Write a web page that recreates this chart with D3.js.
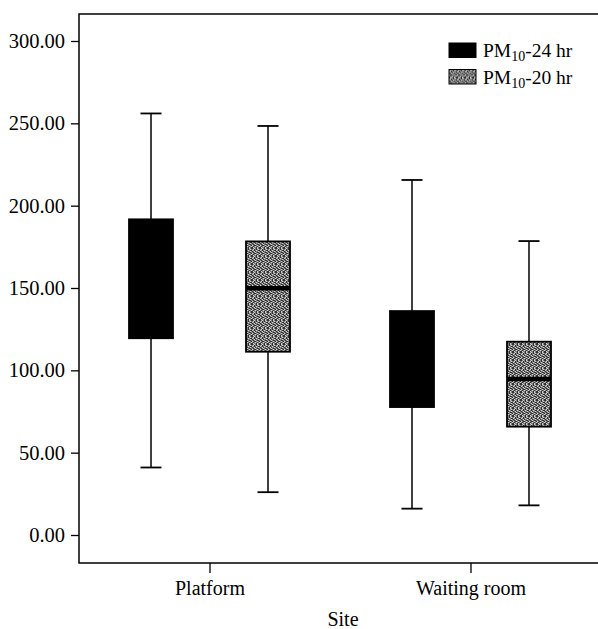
<!DOCTYPE html>
<html>
<head>
  <meta charset="utf-8">
  <title>PM10 by site</title>
  <style>
    body { margin: 0; background: #fff; }
    text { font-family: "Liberation Serif", "DejaVu Serif", serif; fill: #000; }
  </style>
</head>
<body>
  <script src="https://cdn.jsdelivr.net/npm/d3@7/dist/d3.min.js"></script>
  <script>
    const width = 598;
    const height = 629;

    // data
    const sites = ['Platform', 'Waiting room'];
    const series = ['PM10-24 hr', 'PM10-20 hr'];
    const whiskerLow = [[41, 26], [16, 18]];
    const q1 = [[119.5, 111.3], [77.7, 65.8]];
    const median = [[155, 149.8], [105, 94.7]];
    const q3 = [[191.7, 178.3], [136, 117.4]];
    const whiskerHigh = [[256, 248.4], [215.6, 178.5]];
    const yTicks = [0, 50, 100, 150, 200, 250, 300];

    const frame = { left: 79, right: 601, top: 14, bottom: 563 };

    const svg = d3.select('body')
      .append('svg')
      .attr('width', width)
      .attr('height', height);

    // dithered grey fill: fixed 8x8 tile, d = dark, l = light, . = mid
    const tile = [
      'd.l.dl.d',
      '.ld.d.l.',
      'l.d.l.dd',
      'd.ld..l.',
      '.d.l.dd.',
      'l.dd.l.d',
      '.d.l.d.l',
      'dl..dl.d'
    ];
    const tileColors = { d: '#303030', l: '#cfcfcf', '.': '#7e7e7e' };
    const cells = [];
    tile.forEach((row, r) => row.split('').forEach((c, k) => cells.push({ r, k, c })));

    const defs = svg.append('defs');
    const pat = defs.append('pattern')
      .attr('id', 'grey')
      .attr('patternUnits', 'userSpaceOnUse')
      .attr('width', 8)
      .attr('height', 8);
    pat.selectAll('rect').data(cells).join('rect')
      .attr('x', d => d.k).attr('y', d => d.r)
      .attr('width', 1).attr('height', 1)
      .attr('fill', d => tileColors[d.c]);

    const fills = ['#000', 'url(#grey)'];

    const x = d3.scalePoint()
      .domain(sites)
      .range([frame.left, frame.right])
      .padding(0.5);

    const xInner = d3.scalePoint()
      .domain(series)
      .range([-58.5, 58.5]);

    const y = d3.scaleLinear()
      .domain([0, 300])
      .range([535, 41]);

    const boxW = 44;
    const capW = 21;

    // frame
    svg.append('rect')
      .attr('x', frame.left)
      .attr('y', frame.top)
      .attr('width', frame.right - frame.left)
      .attr('height', frame.bottom - frame.top)
      .attr('fill', 'none')
      .attr('stroke', '#000')
      .attr('stroke-width', 1.5);

    // y axis
    const yAxis = svg.append('g')
      .attr('transform', `translate(${frame.left},0)`)
      .call(d3.axisLeft(y).tickValues(yTicks).tickFormat(d3.format('.2f')).tickSize(8).tickPadding(6));
    yAxis.select('.domain').remove();
    yAxis.selectAll('line').attr('stroke', '#000').attr('stroke-width', 1.3);
    yAxis.selectAll('text')
      .attr('font-size', 20.5)
      .attr('fill', '#000');

    // x axis
    const xAxis = svg.append('g')
      .attr('transform', `translate(0,${frame.bottom})`)
      .call(d3.axisBottom(x).tickSize(10).tickPadding(8));
    xAxis.select('.domain').remove();
    xAxis.selectAll('line').attr('stroke', '#000').attr('stroke-width', 1.3);
    xAxis.selectAll('text')
      .attr('font-size', 20)
      .attr('fill', '#000');

    svg.append('text')
      .attr('x', 343)
      .attr('y', 626)
      .attr('text-anchor', 'middle')
      .attr('font-size', 20)
      .text('Site');

    // boxes
    const rows = [];
    sites.forEach((s, i) => {
      series.forEach((k, j) => {
        rows.push({
          site: s, key: k, j,
          lo: whiskerLow[i][j], q1: q1[i][j], med: median[i][j],
          q3: q3[i][j], hi: whiskerHigh[i][j]
        });
      });
    });

    const g = svg.append('g')
      .selectAll('g')
      .data(rows)
      .join('g')
      .attr('transform', d => `translate(${x(d.site) + xInner(d.key)},0)`);

    g.append('line')
      .attr('y1', d => y(d.hi)).attr('y2', d => y(d.q3))
      .attr('stroke', '#000').attr('stroke-width', 1.5);
    g.append('line')
      .attr('y1', d => y(d.q1)).attr('y2', d => y(d.lo))
      .attr('stroke', '#000').attr('stroke-width', 1.5);
    g.append('line')
      .attr('x1', -capW / 2).attr('x2', capW / 2)
      .attr('y1', d => y(d.hi)).attr('y2', d => y(d.hi))
      .attr('stroke', '#000').attr('stroke-width', 1.8);
    g.append('line')
      .attr('x1', -capW / 2).attr('x2', capW / 2)
      .attr('y1', d => y(d.lo)).attr('y2', d => y(d.lo))
      .attr('stroke', '#000').attr('stroke-width', 1.8);
    g.append('rect')
      .attr('x', -boxW / 2)
      .attr('width', boxW)
      .attr('y', d => y(d.q3))
      .attr('height', d => y(d.q1) - y(d.q3))
      .attr('fill', d => fills[d.j])
      .attr('stroke', '#000')
      .attr('stroke-width', 1.8);
    g.append('line')
      .attr('x1', -boxW / 2).attr('x2', boxW / 2)
      .attr('y1', d => y(d.med)).attr('y2', d => y(d.med))
      .attr('stroke', '#000').attr('stroke-width', 4.5);

    // legend
    const legend = svg.append('g')
      .selectAll('g')
      .data(series)
      .join('g')
      .attr('transform', (d, i) => `translate(449,${43 + i * 26.5})`);
    legend.append('rect')
      .attr('width', 27)
      .attr('height', 14.5)
      .attr('fill', (d, i) => fills[i])
      .attr('stroke', '#000')
      .attr('stroke-width', 1);
    const lt = legend.append('text')
      .attr('x', 34)
      .attr('y', 14)
      .attr('font-size', 19.5);
    lt.append('tspan').text('PM');
    lt.append('tspan').attr('font-size', 14).attr('dy', 4).text('10');
    lt.append('tspan').attr('dy', -4).text(d => d.replace('PM10', ''));
  </script>
</body>
</html>
